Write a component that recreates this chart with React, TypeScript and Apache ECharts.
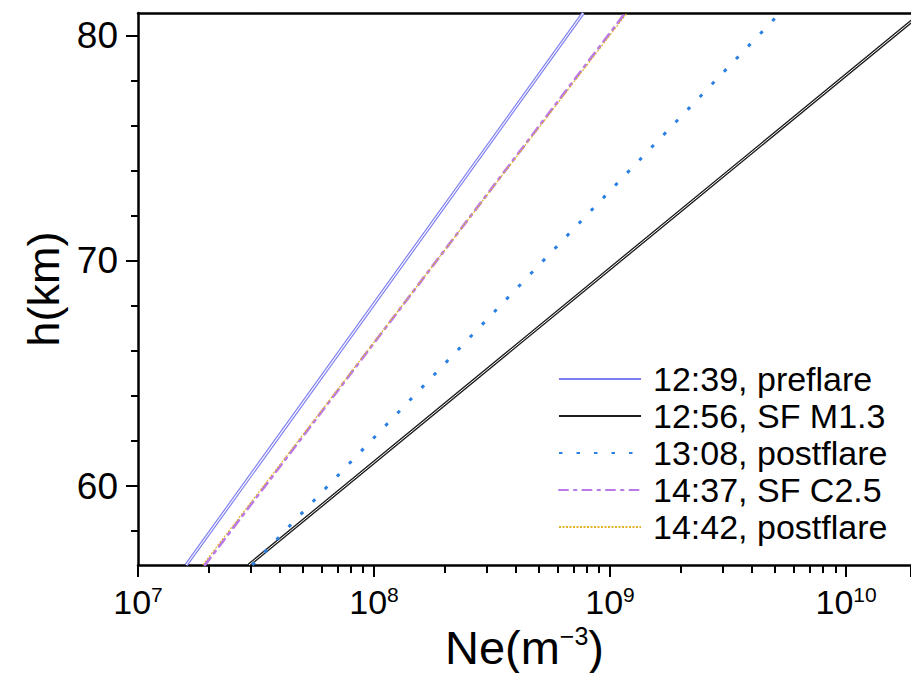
import React, { useEffect, useRef } from 'react';
import * as echarts from 'echarts';

// Heights (km) at which each profile was read (plot bottom and top edges)
const heightKm = [56.5, 81];

// Electron density (m^-3) read at those heights
const ne1239Preflare = [1.6e7, 7.7e8];
const ne1256SFM13 = [2.95e7, 2.09e10];
const ne1308Postflare = [3.05e7, 5.25e9];
const ne1437SFC25 = [1.92e7, 1.16e9];
const ne1442Postflare = [1.88e7, 1.18e9];

const seriesNames = [
  '12:39, preflare',
  '12:56, SF M1.3',
  '13:08, postflare',
  '14:37, SF C2.5',
  '14:42, postflare',
];

const xMinorTicks = [
  2e7, 3e7, 4e7, 5e7, 6e7, 7e7, 8e7, 9e7,
  2e8, 3e8, 4e8, 5e8, 6e8, 7e8, 8e8, 9e8,
  2e9, 3e9, 4e9, 5e9, 6e9, 7e9, 8e9, 9e9,
];
const yMajorTicks = [60, 70, 80];
const yMinorTicks = [58, 62, 64, 66, 68, 72, 74, 76, 78];

const X_MIN = 1e7;
const X_MAX = 1.884e10;
const Y_MIN = 56.5;
const Y_MAX = 81;

const FONT = '"Liberation Sans", Arial, Helvetica, sans-serif';

const toData = (ne: number[]) => ne.map((v, i) => [v, heightKm[i]]);

export default function App() {
  const ref = useRef<HTMLDivElement>(null);

  useEffect(() => {
    if (!ref.current) return;
    const chart = echarts.init(ref.current, undefined, { renderer: 'svg' });

    const base = { type: 'line', symbol: 'none', silent: true, xAxisIndex: 0, yAxisIndex: 0 };

    const option: any = {
      animation: false,
      backgroundColor: '#ffffff',
      grid: {
        left: 138,
        top: 13,
        right: 0,
        bottom: 108,
        containLabel: false,
        outerBoundsMode: 'none',
      },
      legend: {
        data: seriesNames,
        orient: 'vertical',
        left: 558,
        top: 362,
        padding: 0,
        itemWidth: 82,
        itemHeight: 20,
        itemGap: 3,
        itemStyle: { color: 'rgba(0,0,0,0)', borderWidth: 0, opacity: 0 },
        textStyle: {
          fontFamily: FONT,
          fontSize: 34,
          color: '#000',
          lineHeight: 32,
          padding: [0, 0, 0, 7],
        },
        selectedMode: false,
      },
      xAxis: [
        {
          type: 'log',
          logBase: 10,
          min: X_MIN,
          max: X_MAX,
          position: 'bottom',
          name: '{n|Ne(m}{s|−3}{n|)}',
          nameLocation: 'middle',
          nameGap: 50,
          nameTextStyle: {
            rich: {
              n: { fontFamily: FONT, fontSize: 47, color: '#000', lineHeight: 47 },
              s: { fontFamily: FONT, fontSize: 25, color: '#000', lineHeight: 25, verticalAlign: 'top' },
            },
          },
          axisLine: { show: true, onZero: false, lineStyle: { color: '#000', width: 2.5 } },
          axisTick: { show: true, inside: false, length: 12, lineStyle: { color: '#000', width: 2 } },
          minorTick: { show: false },
          splitLine: { show: false },
          axisLabel: {
            margin: 19,
            formatter: (v: number) => {
              const e = Math.log10(v);
              const r = Math.round(e);
              if (Math.abs(e - r) > 1e-6) return '';
              return `{b|10}{s|${r}}`;
            },
            rich: {
              b: { fontFamily: FONT, fontSize: 34, color: '#000', lineHeight: 36 },
              s: { fontFamily: FONT, fontSize: 21, color: '#000', lineHeight: 21, verticalAlign: 'top' },
            },
          },
        },
        {
          type: 'log',
          logBase: 10,
          min: X_MIN,
          max: X_MAX,
          position: 'bottom',
          axisLine: { show: false },
          axisTick: {
            show: true,
            inside: false,
            length: 8,
            customValues: xMinorTicks,
            lineStyle: { color: '#000', width: 2 },
          },
          axisLabel: { show: false },
          splitLine: { show: false },
        },
        {
          type: 'log',
          logBase: 10,
          min: X_MIN,
          max: X_MAX,
          position: 'top',
          axisLine: { show: true, onZero: false, lineStyle: { color: '#000', width: 2.5 } },
          axisTick: { show: false },
          axisLabel: { show: false },
          splitLine: { show: false },
        },
      ],
      yAxis: [
        {
          type: 'value',
          min: Y_MIN,
          max: Y_MAX,
          position: 'left',
          name: 'h(km)',
          nameLocation: 'middle',
          nameGap: 70,
          nameTextStyle: { fontFamily: FONT, fontSize: 45, color: '#000' },
          axisLine: { show: true, onZero: false, lineStyle: { color: '#000', width: 2.5 } },
          axisTick: {
            show: true,
            inside: false,
            length: 12,
            customValues: yMajorTicks,
            lineStyle: { color: '#000', width: 2 },
          },
          axisLabel: {
            margin: 20,
            customValues: yMajorTicks,
            fontFamily: FONT,
            fontSize: 37,
            color: '#000',
          },
          splitLine: { show: false },
        },
        {
          type: 'value',
          min: Y_MIN,
          max: Y_MAX,
          position: 'left',
          axisLine: { show: false },
          axisTick: {
            show: true,
            inside: false,
            length: 7,
            customValues: yMinorTicks,
            lineStyle: { color: '#000', width: 2 },
          },
          axisLabel: { show: false },
          splitLine: { show: false },
        },
      ],
      series: [
        {
          ...base,
          name: seriesNames[0],
          data: toData(ne1239Preflare),
          z: 2,
          lineStyle: { color: '#7d7df2', width: 3.4 },
        },
        {
          ...base,
          name: 'core-preflare',
          data: toData(ne1239Preflare),
          z: 3,
          lineStyle: { color: '#ffffff', width: 1.1 },
        },
        {
          ...base,
          name: seriesNames[1],
          data: toData(ne1256SFM13),
          z: 2,
          lineStyle: { color: '#1e1e1e', width: 3.4 },
        },
        {
          ...base,
          name: 'core-sf',
          data: toData(ne1256SFM13),
          z: 3,
          lineStyle: { color: '#ffffff', width: 1 },
        },
        {
          ...base,
          name: seriesNames[2],
          data: toData(ne1308Postflare),
          z: 4,
          lineStyle: { color: '#2a7fe2', width: 3, type: [3.5, 14], cap: 'butt' },
        },
        {
          ...base,
          name: seriesNames[3],
          data: toData(ne1437SFC25),
          z: 4,
          lineStyle: { color: '#b97ae8', width: 2.8, type: [9, 6, 2.5, 6], cap: 'round' },
        },
        {
          ...base,
          name: seriesNames[4],
          data: toData(ne1442Postflare),
          z: 5,
          lineStyle: { color: '#e2b22a', width: 1.2, type: [2, 1.5] },
        },
      ],
    };

    chart.setOption(option);
    return () => {
      chart.dispose();
    };
  }, []);

  return (
    <div
      ref={ref}
      style={{ position: 'fixed', left: 0, top: 0, width: 911, height: 673, background: '#fff' }}
    />
  );
}
